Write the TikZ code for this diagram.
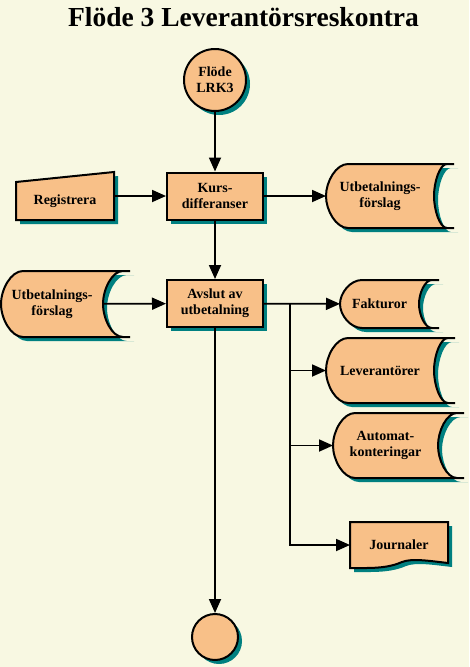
\documentclass[tikz,border=0pt]{standalone}
\usepackage{fontspec}
\setmainfont{Liberation Serif}
\usepackage{tikz}
\usetikzlibrary{
    arrows.meta,
    shadows,
    calc,
    positioning
}
\definecolor{paper}{RGB}{248,248,226}
\definecolor{boxfill}{RGB}{248,192,136}
\definecolor{shadowteal}{RGB}{0,128,128}
\tikzset{
    tealshadow/.style={drop shadow={shadow xshift=4pt,shadow yshift=-4pt,fill=shadowteal,opacity=1}},
    shapeline/.style={draw, line width=2pt, fill=boxfill, tealshadow},
    boxtext/.style={font=\bfseries\fontsize{14}{16}\selectfont, align=center},
    process/.style={shapeline, boxtext, rectangle, minimum width=96pt, minimum height=47pt},
    terminal/.style={shapeline, boxtext, circle, inner sep=0pt},
    datatext/.style={boxtext, rectangle, inner sep=0pt, outer sep=0pt},
    flow/.style={line width=1.8pt, -{Triangle[length=14pt,width=12pt]}}
}
% name, left, top, hollow tip, right, bottom, text
\newcommand{\storedata}[7]{%
    \path[shapeline] ({#2+22},#3) -- (#5,#3) -- ({#5-7},#3)
        .. controls ({#5-7-0.552*(#5-7-#4)},#3) and (#4,{#3+0.276*(#6-#3)}) .. (#4,{(#3+#6)/2})
        .. controls (#4,{#6-0.276*(#6-#3)}) and ({#5-7-0.552*(#5-7-#4)},#6) .. ({#5-7},#6)
        -- (#5,#6) -- ({#2+22},#6)
        .. controls ({#2+10},#6) and (#2,{#6-0.276*(#6-#3)}) .. (#2,{(#3+#6)/2})
        .. controls (#2,{#3+0.276*(#6-#3)}) and ({#2+10},#3) .. ({#2+22},#3) -- cycle;
    \node[datatext, minimum width={#4-#2}, minimum height={#6-#3}] (#1) at ({(#2+#4)/2},{(#3+#6)/2}) {#7};
}
\begin{document}
\begin{tikzpicture}[x=1pt, y=-1pt]
    \fill[paper] (0,0) rectangle (469,667);
    \useasboundingbox (0,0) rectangle (469,667);

    \node[anchor=base, font=\bfseries\fontsize{27.5}{30}\selectfont] (title) at (243.5,26) {Flöde 3 Leverantörsreskontra};

    \node[terminal, minimum size=62pt] (start) at (215,80) {Flöde\\LRK3};
    \node[process] (kurs) at (215,196) {Kurs-\\differanser};
    \node[process] (avs) at (215,303.5) {Avslut av\\utbetalning};
    \node[terminal, minimum size=46pt] (stop) at (215,637) {};

    \path[shapeline] (16,182) -- (114,172) -- (114,220) -- (16,220) -- cycle;
    \node[datatext, minimum width=98pt, minimum height=38pt] (reg) at (65,201) {Registrera};

    \storedata{ufr}{326}{164}{434}{454}{228}{Utbetalnings-\\förslag}
    \storedata{ufl}{1}{271}{103}{130}{337}{Utbetalnings-\\förslag}
    \storedata{fak}{340}{280}{419}{439}{328}{Fakturor}
    \storedata{lev}{326}{338}{434}{455}{403}{Leverantörer}
    \storedata{aut}{333}{413}{438}{464}{478}{Automat-\\konteringar}

    \path[shapeline] (350,522) -- (448,522) -- (448,563)
        .. controls (430,561) and (412,558) .. (402,562)
        .. controls (393,566) and (382,568) .. (366,568) -- (350,568) -- cycle;
    \node[datatext, minimum width=98pt, minimum height=46pt] (jou) at (399,545) {Journaler};

    \coordinate (split) at (290,304);

    \draw[flow] (start) -- (kurs);
    \draw[flow] (reg.east |- kurs) -- (kurs);
    \draw[flow] (kurs) -- (ufr);
    \draw[flow] (kurs) -- (avs);
    \draw[flow] (ufl) -- (avs);
    \draw[flow] (avs) -- (fak);
    \draw[flow] (avs) -- (stop);
    \draw[flow] (split) |- (jou);
    \draw[flow] (split |- lev) -- (lev);
    \draw[flow] (split |- aut) -- (aut);
\end{tikzpicture}
\end{document}
